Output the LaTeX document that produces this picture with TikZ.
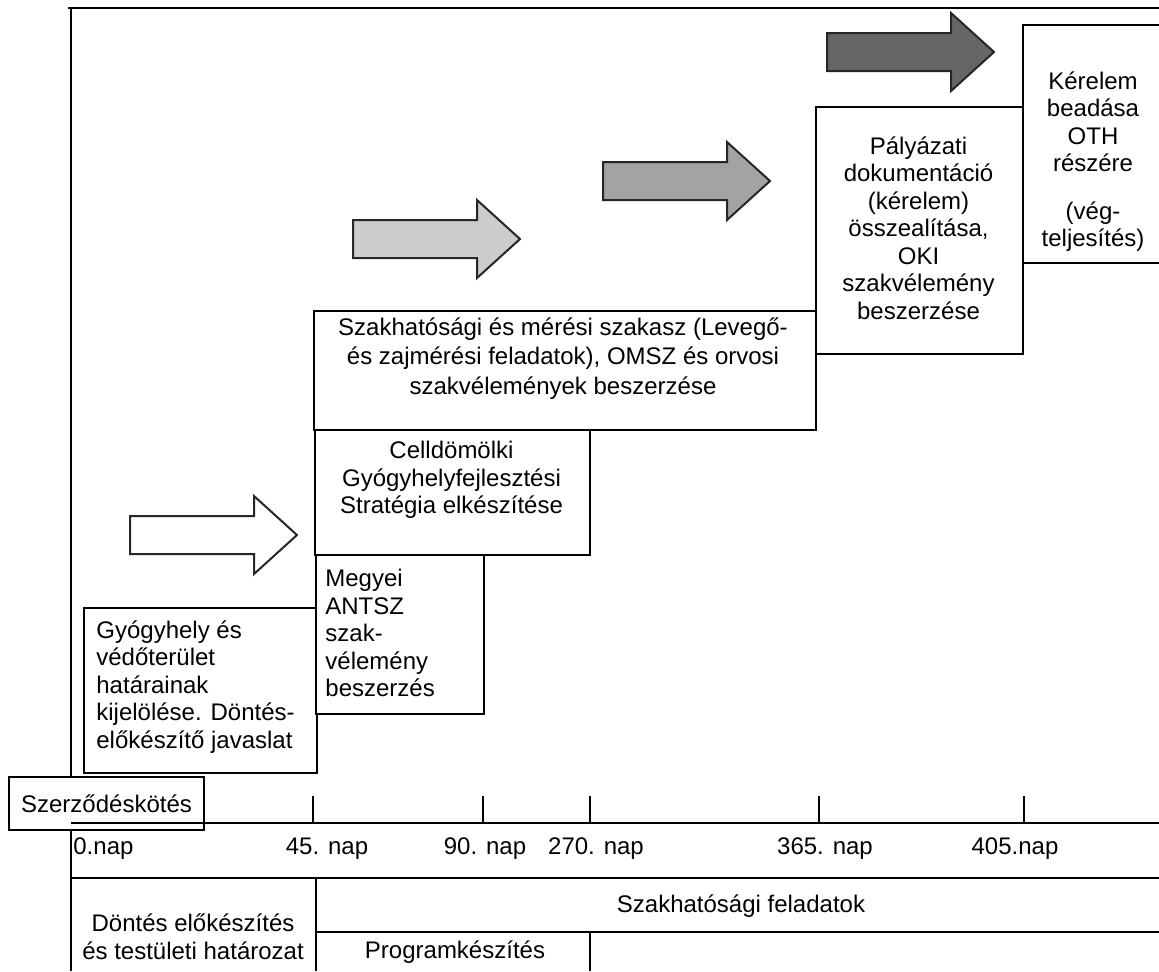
\documentclass[tikz,border=0pt]{standalone}
\usepackage{fontspec}
\setmainfont{Liberation Sans}

\colorlet{arrowA}{white}
\colorlet{arrowB}{black!20}
\colorlet{arrowC}{black!36}
\colorlet{arrowD}{black!60}

\tikzset{
    box/.style={draw, line width=1.1pt, fill=white, inner sep=0pt, anchor=north west},
    txt/.style={inner sep=0pt, font=\fontsize{12}{13.75}\selectfont},
    blockarrow/.style={draw=black!85, line width=1pt, line join=miter},
    rule/.style={line width=1pt}
}

\begin{document}
\begin{tikzpicture}[x=0.5pt, y=-0.5pt]
    \useasboundingbox (0,0) rectangle (1159,971);

    % frame
    \draw[rule] (68,8) -- (1159,8);
    \draw[rule] (71,8) -- (71,971);

    % block arrows
    \foreach \x/\y/\c in {130/535/arrowA, 353/239/arrowB, 603/181/arrowC, 827/52/arrowD}
        \draw[blockarrow, fill=\c] (\x,{\y-19}) -- ++(124,0) -- ++(0,-20) -- ++(43,39)
            -- ++(-43,39) -- ++(0,-20) -- ++(-124,0) -- cycle;

    % boxes
    \node[box, minimum width=116.5pt, minimum height=82.5pt] (gyobox) at (83,607) {};
    \node[box, minimum width=84pt, minimum height=79.5pt] (antszbox) at (315,554) {};
    \node[box, minimum width=251pt, minimum height=59.5pt] (szakbox) at (313,310) {};
    \node[box, minimum width=137.5pt, minimum height=62.5pt] (cellbox) at (314,429) {};
    \node[box, minimum width=103.5pt, minimum height=123.5pt] (palybox) at (815,106) {};
    \node[box, minimum width=75pt, minimum height=119pt] (kerbox) at (1022,24) {};

    \node[txt, align=left, anchor=north west] (gyotxt) at (96,620)
        {Gyógyhely és\\védőterület\\határainak\\kijelölése. Döntés-\\előkészítő javaslat};
    \node[txt, align=left, anchor=north west] (antsztxt) at (325,569)
        {Megyei\\ANTSZ\\szak-\\vélemény\\beszerzés};
    \node[txt, align=center, anchor=north] (celltxt) at (451.5,441)
        {Celldömölki\\Gyógyhelyfejlesztési\\Stratégia elkészítése};
    \node[txt, align=center, anchor=north, font=\fontsize{12}{14.75}\selectfont] (szaktxt) at (563,317)
        {Szakhatósági és mérési szakasz (Levegő-\\és zajmérési feladatok), OMSZ és orvosi\\szakvélemények beszerzése};
    \node[txt, align=center, anchor=north] (palytxt) at (918.5,136)
        {Pályázati\\dokumentáció\\(kérelem)\\összealítása,\\OKI\\szakvélemény\\beszerzése};
    \node[txt, align=center, anchor=north] (kertxt) at (1093,71)
        {Kérelem\\beadása\\OTH\\részére\\[10pt](vég-\\teljesítés)};

    % time line
    \node[box, anchor=center, minimum width=97.5pt, minimum height=26.5pt,
        font=\fontsize{12}{13.75}\selectfont] (szerz) at (106.5,803.5) {Szerződéskötés};
    \draw[rule] (71,823) -- (1159,823);
    \foreach \t in {313,483,590,819,1024}
        \draw[rule] (\t,796) -- (\t,823);
    \node[txt, anchor=west] (nap0) at (73,849) {0.nap};
    \foreach \l/\txt in {327/45. nap, 485/90. nap, 596/270. nap, 825/365. nap, 1015/405.nap}
        \node[txt] (nap\l) at (\l,849) {\txt};

    % tasks
    \draw[rule] (71,878) -- (1159,878);
    \draw[rule] (316,878) -- (316,971);
    \draw[rule] (316,932) -- (1159,932);
    \draw[rule] (590,932) -- (590,971);
    \node[txt] (szakfel) at (741,906) {Szakhatósági feladatok};
    \node[txt, align=center] (dontes) at (193,937) {Döntés előkészítés\\és testületi határozat};
    \node[txt] (program) at (455,952) {Programkészítés};
\end{tikzpicture}
\end{document}
